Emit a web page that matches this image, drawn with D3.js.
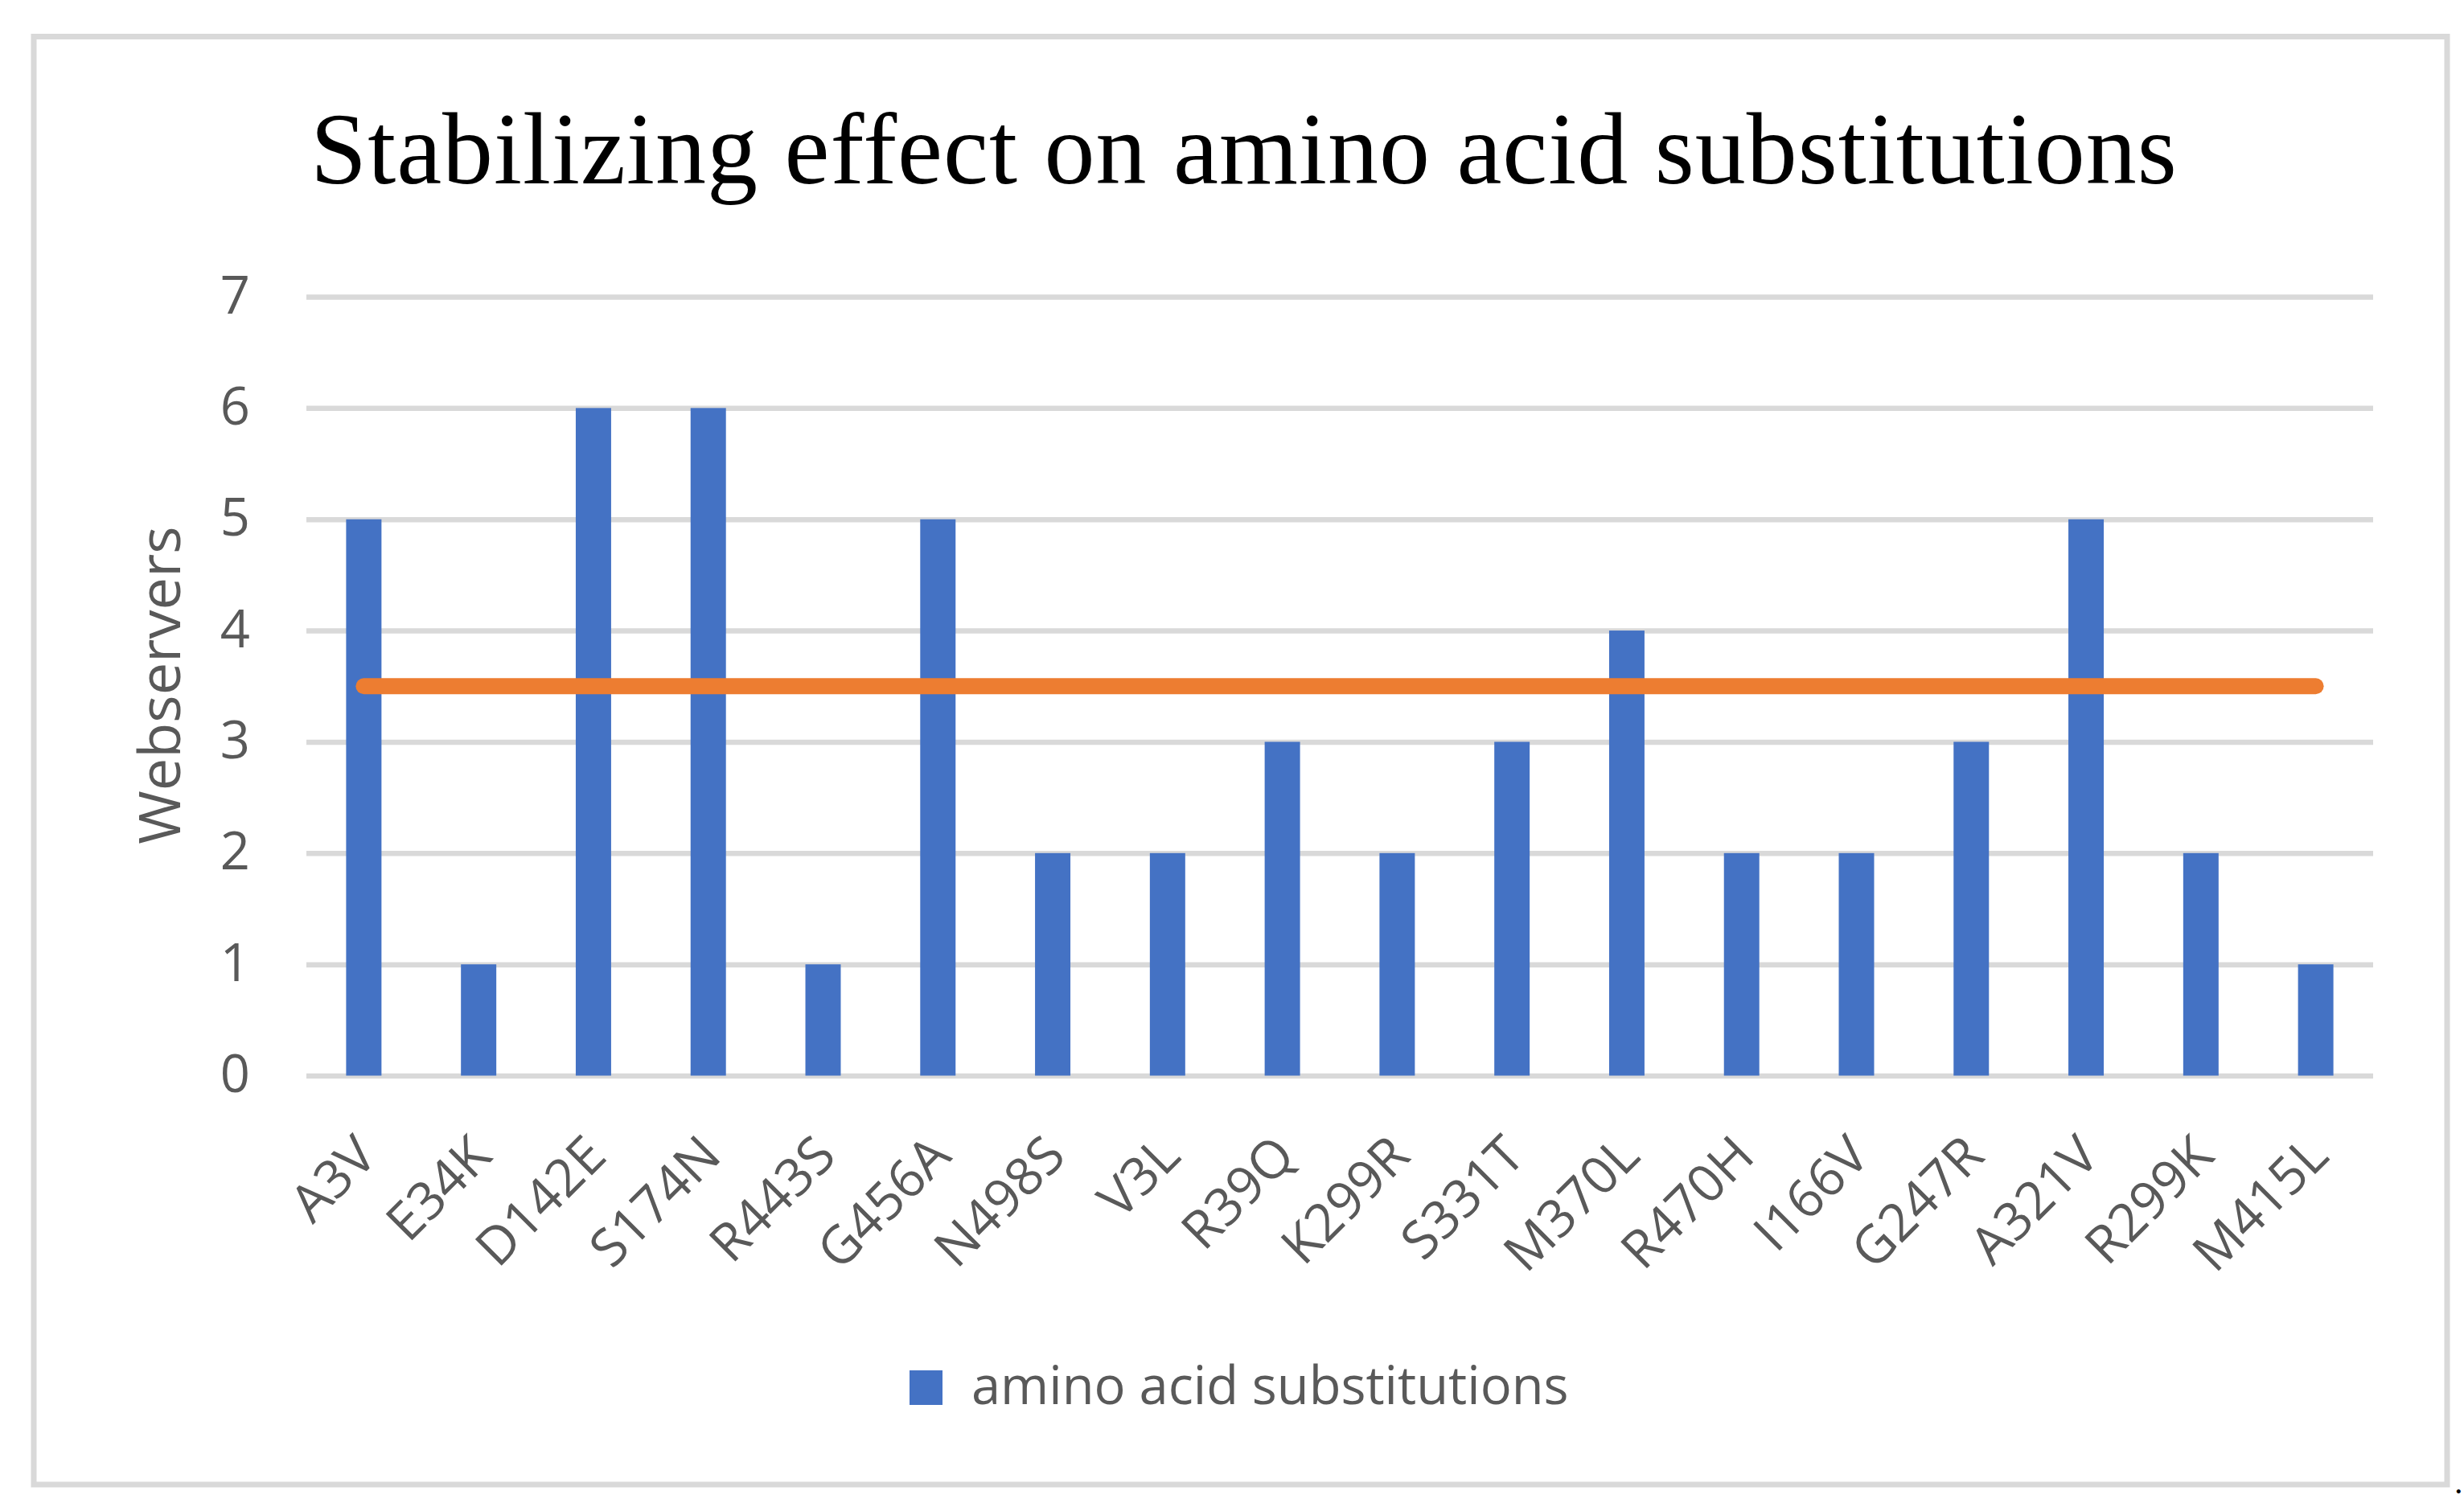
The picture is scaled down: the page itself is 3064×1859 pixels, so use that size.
<!DOCTYPE html>
<html>
<head>
<meta charset="utf-8">
<script src="https://cdn.jsdelivr.net/npm/d3@7"></script>
<style>
  body { margin: 0; background: #fff; }
  text { font-family: "Open Sans", sans-serif; }
</style>
</head>
<body>
<div id="chart"></div>
<script>
var categories = ["A3V", "E34K", "D142E", "S174N", "R443S", "G456A", "N498S", "V3L", "R39Q",
  "K299R", "S331T", "M370L", "R470H", "I166V", "G247R", "A321V", "R299K", "M415L"];
var substitutions = [5, 1, 6, 6, 1, 5, 2, 2, 3, 2, 3, 4, 2, 2, 3, 5, 2, 1];
var threshold = [3.5, 3.5, 3.5, 3.5, 3.5, 3.5, 3.5, 3.5, 3.5, 3.5, 3.5, 3.5, 3.5, 3.5, 3.5, 3.5, 3.5, 3.5];
var yTicks = [0, 1, 2, 3, 4, 5, 6, 7];

var width = 3064,
  height = 1859;
var plotLeft = 381,
  plotRight = 2951,
  plotTop = 369,
  plotBottom = 1337.5;

var svg = d3.select("#chart").append("svg").attr("width", width).attr("height", height);
svg.append("rect").attr("width", width).attr("height", height).attr("fill", "#fff");

// outer chart frame
svg.append("rect").attr("x", 42).attr("y", 45.5).attr("width", 3001).attr("height", 1800.5)
  .attr("fill", "none").attr("stroke", "#d9d9d9").attr("stroke-width", 7);

var x = d3.scaleBand().domain(categories).range([plotLeft, plotRight]).paddingInner(0.692).paddingOuter(0.346);
var y = d3.scaleLinear().domain([0, 7]).range([plotBottom, plotTop]);

// gridlines + y tick labels
var yAxis = svg.append("g").attr("transform", "translate(" + plotLeft + ",0)")
  .call(d3.axisLeft(y).tickValues(yTicks).tickFormat(d3.format("d")).tickSize(-(plotRight - plotLeft)).tickPadding(70));
yAxis.select(".domain").remove();
yAxis.selectAll("line").attr("stroke", "#d9d9d9").attr("stroke-width", 6.5);
yAxis.selectAll("text").attr("fill", "#595959").style("font-size", "65px").attr("dy", "0.31em")
  .style("font-family", "'Open Sans', sans-serif");

// bars
svg.selectAll("rect.bar").data(substitutions).enter().append("rect").attr("class", "bar")
  .attr("x", function(d, i) {
    return x(categories[i]);
  }).attr("y", function(d) {
    return y(d);
  }).attr("width", x.bandwidth()).attr("height", function(d) {
    return y(0) - y(d);
  }).attr("fill", "#4472c4");

// threshold line
var line = d3.line().x(function(d, i) {
  return x(categories[i]) + x.bandwidth() / 2;
}).y(function(d) {
  return y(d);
});
svg.append("path").datum(threshold).attr("d", line).attr("fill", "none")
  .attr("stroke", "#ed7d31").attr("stroke-width", 20).attr("stroke-linecap", "round");

// x labels
var xAxis = svg.append("g").attr("transform", "translate(0," + plotBottom + ")")
  .call(d3.axisBottom(x).tickSize(0));
xAxis.select(".domain").remove();
xAxis.selectAll("text").attr("fill", "#595959").style("font-size", "65px")
  .style("font-family", "'Open Sans', sans-serif")
  .attr("text-anchor", "end").attr("dy", null).attr("y", null)
  .attr("transform", "translate(19,103) rotate(-45)");

// axis title
svg.append("text").attr("transform", "translate(224,852) rotate(-90)").attr("text-anchor", "middle")
  .attr("fill", "#595959").style("font-size", "72px").text("Webservers");

// chart title
svg.append("text").attr("x", 1547).attr("y", 228).attr("text-anchor", "middle")
  .style("font-family", "'Liberation Serif', serif").style("font-size", "126px").attr("fill", "#000")
  .style("letter-spacing", "1px")
  .text("Stabilizing effect on amino acid substitutions");

// legend
svg.append("rect").attr("x", 1131).attr("y", 1704).attr("width", 41).attr("height", 43).attr("fill", "#4472c4");
svg.append("text").attr("x", 1208).attr("y", 1746).attr("fill", "#595959").style("font-size", "65px")
  .text("amino acid substitutions");

// stray period from the source page
svg.append("text").attr("x", 3052).attr("y", 1857).style("font-family", "'Liberation Serif', serif")
  .style("font-size", "42px").attr("fill", "#000").text(".");
</script>
</body>
</html>
